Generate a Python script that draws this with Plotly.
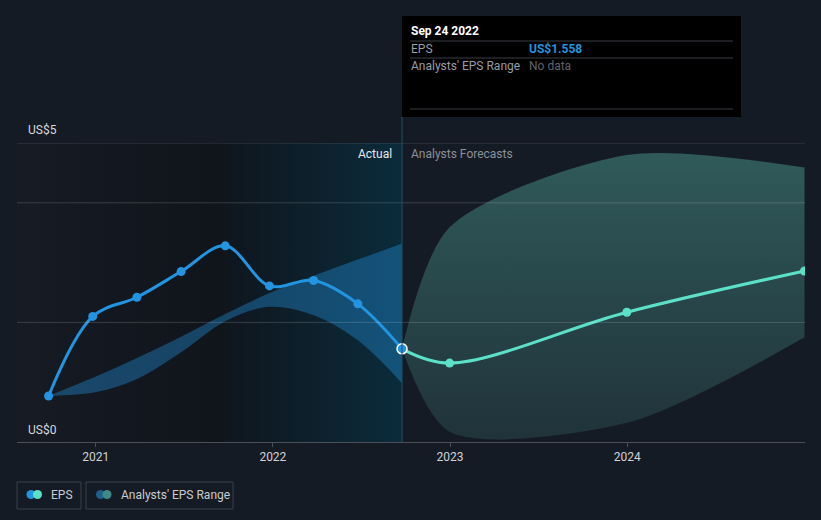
import plotly.graph_objects as go

# EPS history (US$)
eps_dates = ["2020-09-26", "2020-12-26", "2021-03-27", "2021-06-26", "2021-09-25",
             "2021-12-25", "2022-03-26", "2022-06-25", "2022-09-24"]
eps_values = [0.77, 2.10, 2.42, 2.85, 3.28, 2.61, 2.70, 2.31, 1.558]

# past analyst estimate band
past_band_dates = ["2020-09-26", "2020-12-31", "2021-03-26", "2021-06-26", "2021-09-25",
                   "2021-12-25", "2022-03-26", "2022-06-25", "2022-09-24"]
past_band_low = [0.77, 0.83, 1.05, 1.50, 2.02, 2.26, 2.12, 1.70, 0.98]
past_band_high = [0.77, 1.09, 1.40, 1.76, 2.14, 2.49, 2.78, 3.05, 3.32]

# analyst forecasts
fc_dates = ["2022-09-24", "2022-12-31", "2023-12-31", "2024-12-31"]
fc_values = [1.558, 1.32, 2.17, 2.86]
fc_low = [1.558, 0.17, 0.32, 1.75]
fc_high = [1.558, 3.59, 4.80, 4.59]

x_start, x_end = "2020-07-23", "2025-01-01"
hl_start, now = "2021-09-25", "2022-09-24"
year_ticks = ["2021-01-01", "2022-01-01", "2023-01-01", "2024-01-01"]
year_labels = ["2021", "2022", "2023", "2024"]

BG = "#151b25"
W, H = 821, 520
L, R, T, B = 17, 16, 143, 78
pw, ph = W - L - R, H - T - B


def px_x(x):
    return (x - L) / pw


def px_y(y):
    return (H - B - y) / ph


fig = go.Figure()

# background panels
fig.add_trace(go.Scatter(
    x=[x_start, hl_start, hl_start, x_start, x_start], y=[0, 0, 5, 5, 0],
    mode="lines", line=dict(width=0), fill="toself",
    fillgradient=dict(type="horizontal", colorscale=[[0, "#161b24"], [1, "#10141b"]]),
    hoverinfo="skip", showlegend=False))
fig.add_trace(go.Scatter(
    x=[hl_start, now, now, hl_start, hl_start], y=[0, 0, 5, 5, 0],
    mode="lines", line=dict(width=0), fill="toself",
    fillgradient=dict(type="horizontal", colorscale=[[0, "#0f161e"], [1, "#0b2b3b"]]),
    hoverinfo="skip", showlegend=False))

# past band
fig.add_trace(go.Scatter(x=past_band_dates, y=past_band_low, mode="lines",
                         line=dict(width=0, shape="spline"), hoverinfo="skip", showlegend=False))
fig.add_trace(go.Scatter(x=past_band_dates, y=past_band_high, mode="lines",
                         line=dict(width=0, shape="spline"), fill="tonexty",
                         fillcolor="rgba(35,148,223,0.38)", hoverinfo="skip", showlegend=False))

# forecast band
fig.add_trace(go.Scatter(x=fc_dates, y=fc_low, mode="lines",
                         line=dict(width=0, shape="spline", smoothing=0.8),
                         hoverinfo="skip", showlegend=False))
fig.add_trace(go.Scatter(x=fc_dates, y=fc_high, mode="lines",
                         line=dict(width=0, shape="spline", smoothing=0.8), fill="tonexty",
                         fillgradient=dict(type="vertical",
                                           colorscale=[[0, "#20333a"], [1, "#305a5a"]]),
                         hoverinfo="skip", showlegend=False))

# forecast line
fig.add_trace(go.Scatter(x=fc_dates, y=fc_values, mode="lines+markers",
                         line=dict(color="#5de0c8", width=3, shape="spline"),
                         marker=dict(size=9, color="#5de0c8"),
                         hoverinfo="skip", showlegend=False))

# eps line
fig.add_trace(go.Scatter(x=eps_dates, y=eps_values, mode="lines+markers",
                         line=dict(color="#2394df", width=3, shape="spline"),
                         marker=dict(size=9, color="#2394df"),
                         hoverinfo="skip", showlegend=False))
fig.add_trace(go.Scatter(x=[eps_dates[-1]], y=[eps_values[-1]], mode="markers",
                         marker=dict(size=10, color="#2394df", line=dict(color="white", width=1.5)),
                         hoverinfo="skip", showlegend=False))

shapes = []
# gridlines above fills
for v in [2, 4, 5]:
    shapes.append(dict(type="line", xref="paper", yref="y", x0=0, x1=1, y0=v, y1=v,
                       line=dict(color="rgba(255,255,255,0.16)", width=1), layer="above"))
# now line
shapes.append(dict(type="line", xref="x", yref="paper", x0=now, x1=now, y0=0, y1=px_y(117),
                   line=dict(color="#1b5166", width=1), layer="above"))
# tooltip box
shapes.append(dict(type="rect", xref="paper", yref="paper", x0=px_x(402), x1=px_x(741),
                   y0=px_y(117), y1=px_y(16), fillcolor="#000000", line=dict(width=0)))
for yy in [41, 58, 109]:
    shapes.append(dict(type="line", xref="paper", yref="paper", x0=px_x(410), x1=px_x(733),
                       y0=px_y(yy), y1=px_y(yy), line=dict(color="#3a3d42", width=1)))
# legend boxes
for x0, x1 in [(17, 81), (86, 233)]:
    shapes.append(dict(type="rect", xref="paper", yref="paper", x0=px_x(x0), x1=px_x(x1),
                       y0=px_y(509), y1=px_y(482), line=dict(color="#3b4049", width=1),
                       fillcolor="rgba(0,0,0,0)"))
for cx, col in [(31, "#2394df"), (37.5, "#5de0c8"), (100.5, "#1f5f8c"), (107, "#3f8a86")]:
    shapes.append(dict(type="circle", xref="paper", yref="paper",
                       x0=px_x(cx - 4.5), x1=px_x(cx + 4.5), y0=px_y(499), y1=px_y(490),
                       fillcolor=col, line=dict(width=0)))

ann = []


def text(x, y, s, color, size=12, anchor="left", bold=False):
    ann.append(dict(xref="paper", yref="paper", x=px_x(x), y=px_y(y), text=f"<b>{s}</b>" if bold else s,
                    showarrow=False, xanchor=anchor, yanchor="middle",
                    font=dict(color=color, size=size)))


text(26, 130, "US$5", "#d7d9dc")
text(26, 430, "US$0", "#d7d9dc")
text(394, 154, "Actual", "#e6e8ea", anchor="right")
text(409, 154, "Analysts Forecasts", "#8c9097")
text(409, 31, "Sep 24 2022", "#ffffff", bold=True)
text(409, 49, "EPS", "#9a9da3")
text(527, 49, "US$1.558", "#2394df", bold=True)
text(409, 66, "Analysts' EPS Range", "#9a9da3")
text(527, 66, "No data", "#5f6268")
text(49, 495, "EPS", "#c8cbd0")
text(119, 495, "Analysts' EPS Range", "#c8cbd0")

fig.update_layout(
    width=W, height=H, margin=dict(l=L, r=R, t=T, b=B),
    paper_bgcolor=BG, plot_bgcolor=BG,
    font=dict(family="Roboto, sans-serif", color="#d0d2d6", size=12),
    shapes=shapes, annotations=ann, showlegend=False,
    xaxis=dict(type="date", range=[x_start, x_end], tickvals=year_ticks, ticktext=year_labels,
               showgrid=False, zeroline=False, showline=True, linecolor="#4a4f58",
               ticks="outside", ticklen=4, tickcolor="#4a4f58",
               tickfont=dict(color="#d0d2d6", size=12), fixedrange=True),
    yaxis=dict(range=[0, 5], showgrid=False, zeroline=False, showticklabels=False,
               showline=False, fixedrange=True),
)

fig.write_html("out.html", config={"displayModeBar": False},
               post_script="document.body.style.margin='0';")
